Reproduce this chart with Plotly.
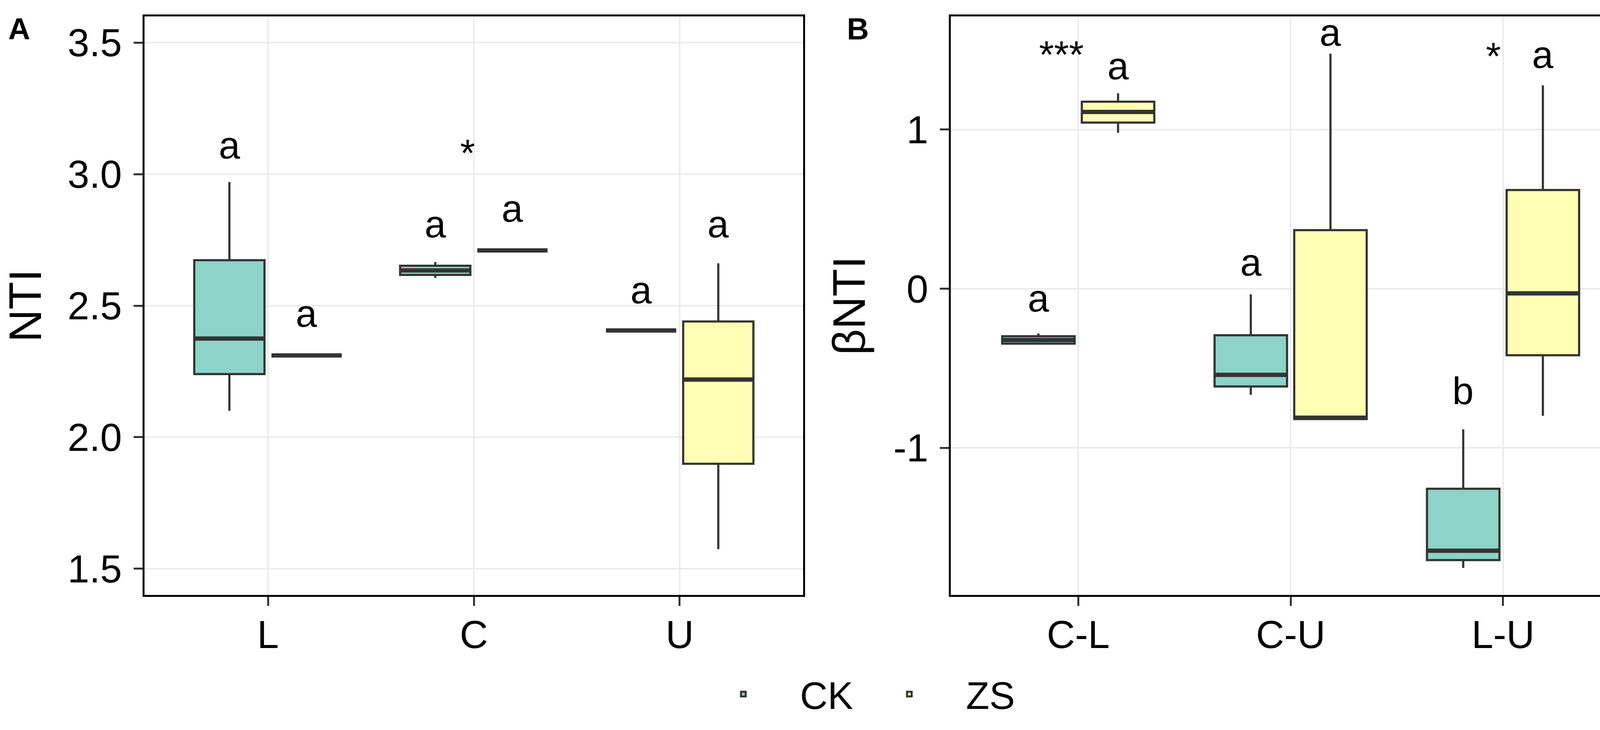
#!/usr/bin/env python3
"""NTI and betaNTI box plots for CK vs ZS (panels A and B)."""

import plotly.graph_objects as go

# Panel A: NTI by site
SITES_A = ["L", "C", "U"]
CK_A_LOWER = [2.10, 2.606, 2.406]
CK_A_Q1 = [2.24, 2.617, 2.406]
CK_A_MEDIAN = [2.375, 2.634, 2.406]
CK_A_Q3 = [2.673, 2.652, 2.406]
CK_A_UPPER = [2.97, 2.666, 2.406]

ZS_A_LOWER = [2.311, 2.710, 1.574]
ZS_A_Q1 = [2.311, 2.710, 1.899]
ZS_A_MEDIAN = [2.311, 2.710, 2.219]
ZS_A_Q3 = [2.311, 2.710, 2.440]
ZS_A_UPPER = [2.311, 2.710, 2.661]

# Panel B: betaNTI by site pair
PAIRS_B = ["C-L", "C-U", "L-U"]
CK_B_LOWER = [-0.345, -0.667, -1.754]
CK_B_Q1 = [-0.345, -0.614, -1.705]
CK_B_MEDIAN = [-0.322, -0.541, -1.646]
CK_B_Q3 = [-0.298, -0.292, -1.257]
CK_B_UPPER = [-0.281, -0.035, -0.883]

ZS_B_LOWER = [0.98, -0.82, -0.798]
ZS_B_Q1 = [1.044, -0.819, -0.418]
ZS_B_MEDIAN = [1.111, -0.81, -0.029]
ZS_B_Q3 = [1.175, 0.368, 0.620]
ZS_B_UPPER = [1.228, 1.477, 1.278]

# significance letters / stars: text, category index, group, y
LABELS_A_TEXT = ["a", "a", "*", "a", "a", "a", "a"]
LABELS_A_CAT = [0, 0, 1, 1, 1, 2, 2]
LABELS_A_GROUP = ["CK", "ZS", "mid", "CK", "ZS", "CK", "ZS"]
LABELS_A_Y = [3.11, 2.47, 3.08, 2.81, 2.87, 2.56, 2.81]

LABELS_B_TEXT = ["a", "***", "a", "a", "a", "b", "*", "a"]
LABELS_B_CAT = [0, 0, 0, 1, 1, 2, 2, 2]
LABELS_B_GROUP = ["CK", "stars", "ZS", "CK", "ZS", "CK", "star", "ZS"]
LABELS_B_Y = [-0.06, 1.47, 1.40, 0.167, 1.61, -0.64, 1.46, 1.47]

CK_COLOR = "#8DD3C7"
ZS_COLOR = "#FFFFB3"
LINE_COLOR = "#333333"
FONT = "Liberation Sans, Arial, sans-serif"

GROUP_OFFSET = {"CK": -0.1875, "ZS": 0.1875, "mid": -0.03, "stars": -0.08, "star": -0.045}


def add_boxes(fig, x, lower, q1, median, q3, upper, name, color, panel, show):
    xaxis, yaxis = ("x", "y") if panel == "A" else ("x2", "y2")
    common = dict(
        x=x,
        offsetgroup=name,
        alignmentgroup=panel,
        whiskerwidth=0,
        boxpoints=False,
        xaxis=xaxis,
        yaxis=yaxis,
        hoverinfo="skip",
    )
    fig.add_trace(
        go.Box(
            lowerfence=lower,
            q1=q1,
            median=median,
            q3=q3,
            upperfence=upper,
            name=name,
            legendgroup=name,
            showlegend=show,
            fillcolor=color,
            line=dict(color=LINE_COLOR, width=5.5),
            **common,
        )
    )
    # thicker median bar, as in ggplot's boxplot
    fig.add_trace(
        go.Box(
            lowerfence=median,
            q1=median,
            median=median,
            q3=median,
            upperfence=median,
            name=name,
            legendgroup=name,
            showlegend=False,
            fillcolor="rgba(0,0,0,0)",
            line=dict(color=LINE_COLOR, width=11),
            **common,
        )
    )


def add_labels(fig, texts, cats, groups, ys, xref, yref):
    for text, cat, grp, y in zip(texts, cats, groups, ys):
        fig.add_annotation(
            x=cat + GROUP_OFFSET[grp],
            y=y,
            xref=xref,
            yref=yref,
            text=text,
            showarrow=False,
            font=dict(size=98, color="black", family=FONT),
            xanchor="center",
            yanchor="middle",
        )


def axis_style(**kwargs):
    style = dict(
        showline=True,
        mirror=True,
        linecolor="black",
        linewidth=4.5,
        showgrid=True,
        gridcolor="#EBEBEB",
        gridwidth=4,
        zeroline=False,
        ticks="outside",
        ticklen=23,
        tickwidth=4.5,
        tickcolor=LINE_COLOR,
        tickfont=dict(size=100, color="black", family=FONT),
    )
    style.update(kwargs)
    return style


fig = go.Figure()

add_boxes(fig, SITES_A, CK_A_LOWER, CK_A_Q1, CK_A_MEDIAN, CK_A_Q3, CK_A_UPPER,
          "CK", CK_COLOR, "A", True)
add_boxes(fig, SITES_A, ZS_A_LOWER, ZS_A_Q1, ZS_A_MEDIAN, ZS_A_Q3, ZS_A_UPPER,
          "ZS", ZS_COLOR, "A", True)
add_boxes(fig, PAIRS_B, CK_B_LOWER, CK_B_Q1, CK_B_MEDIAN, CK_B_Q3, CK_B_UPPER,
          "CK", CK_COLOR, "B", False)
add_boxes(fig, PAIRS_B, ZS_B_LOWER, ZS_B_Q1, ZS_B_MEDIAN, ZS_B_Q3, ZS_B_UPPER,
          "ZS", ZS_COLOR, "B", False)

add_labels(fig, LABELS_A_TEXT, LABELS_A_CAT, LABELS_A_GROUP, LABELS_A_Y, "x", "y")
add_labels(fig, LABELS_B_TEXT, LABELS_B_CAT, LABELS_B_GROUP, LABELS_B_Y, "x2", "y2")

# panel tags
for tag, xpos in (("A", 0.0045), ("B", 0.516)):
    fig.add_annotation(
        x=xpos, y=0.985, xref="paper", yref="paper", text=f"<b>{tag}</b>",
        showarrow=False, xanchor="left", yanchor="top",
        font=dict(size=78, color="black", family=FONT),
    )

fig.update_layout(
    width=4198,
    height=1870,
    margin=dict(l=0, r=0, t=0, b=0),
    paper_bgcolor="white",
    plot_bgcolor="white",
    boxmode="group",
    boxgap=0.25,
    boxgroupgap=0.09,
    font=dict(family=FONT, color="black"),
    xaxis=axis_style(domain=[0.0881, 0.4898], range=[-0.6, 2.6], ticklabelstandoff=-12,
                     categoryorder="array", categoryarray=SITES_A),
    yaxis=axis_style(domain=[0.185, 0.9775], range=[1.40, 3.60], ticklabelstandoff=10,
                     tickvals=[1.5, 2.0, 2.5, 3.0, 3.5], ticktext=["1.5", "2.0", "2.5", "3.0", "3.5"],
                     title=dict(text="NTI", font=dict(size=116, color="black", family=FONT), standoff=40)),
    xaxis2=axis_style(domain=[0.5798, 0.9943], range=[-0.6, 2.6], anchor="y2", ticklabelstandoff=-12,
                      categoryorder="array", categoryarray=PAIRS_B),
    yaxis2=axis_style(domain=[0.185, 0.9775], range=[-1.924, 1.711], anchor="x2", ticklabelstandoff=10,
                      tickvals=[-1, 0, 1], ticktext=["-1", "0", "1"],
                      title=dict(text="βNTI", font=dict(size=116, color="black", family=FONT), standoff=35)),
    legend=dict(
        orientation="h",
        x=0.520,
        xanchor="center",
        y=0.049,
        yanchor="middle",
        font=dict(size=98, color="black", family=FONT),
        itemwidth=280,
        entrywidth=130,
        bgcolor="rgba(0,0,0,0)",
    ),
)

fig.write_html(
    "out.html",
    config={"displayModeBar": False},
    post_script="document.body.style.margin='0';",
)
